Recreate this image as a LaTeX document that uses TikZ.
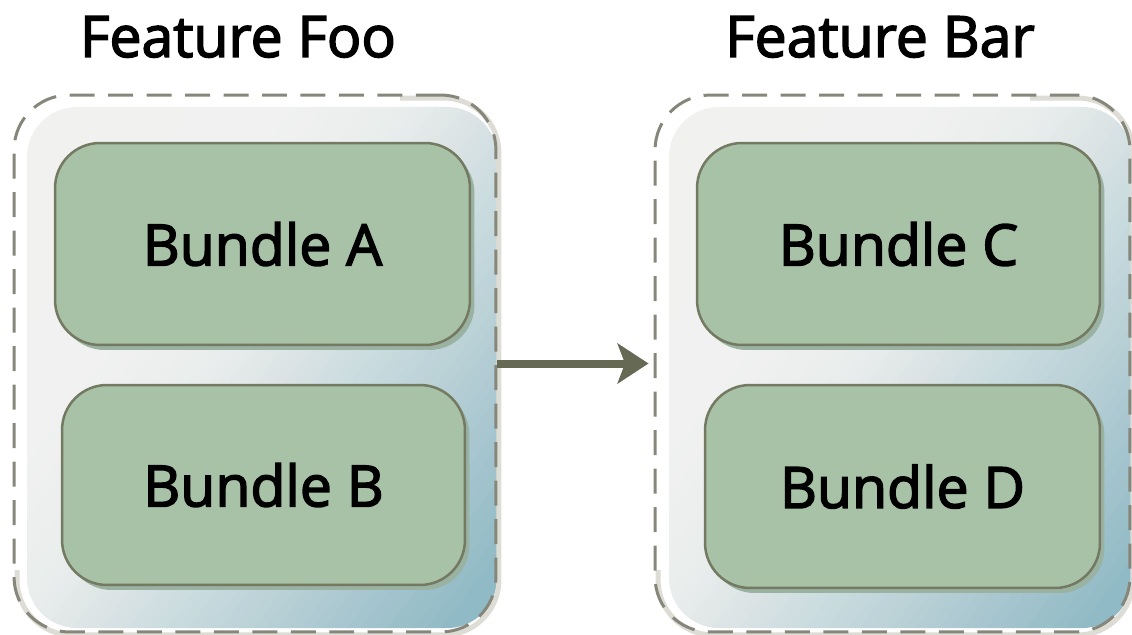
\documentclass[tikz,border=0pt]{standalone}
\usepackage{fontspec}
\setmainfont{Open Sans}[FakeBold=2.6]
\usetikzlibrary{arrows.meta}
\definecolor{g0}{HTML}{F2F2F1}
\definecolor{g1}{HTML}{F0F1F0}
\definecolor{g2}{HTML}{E9EDEC}
\definecolor{g3}{HTML}{DCE4E5}
\definecolor{g4}{HTML}{CADCDF}
\definecolor{g5}{HTML}{BAD1D7}
\definecolor{g6}{HTML}{A6C5CE}
\definecolor{g7}{HTML}{8FBAC6}
\definecolor{dashc}{HTML}{86877A}
\definecolor{halo}{HTML}{DDDDD6}
\definecolor{bfill}{HTML}{A8C2A7}
\definecolor{bline}{HTML}{747A62}
\definecolor{bshadow}{HTML}{9AB2A2}
\definecolor{arrowc}{HTML}{666A55}
% one segment of the gradient, as 8 flat bands across the axis (0.8,0.6)
% #1,#2 centre; #3,#4 offsets along the axis; #5,#6 colours
\newcommand\gseg[6]{%
  \foreach \k in {0,...,7}{%
    \pgfmathsetmacro\da{#3+(#4-#3)*\k/8}%
    \pgfmathsetmacro\db{#3+(#4-#3)*(\k+1)/8+0.7}%
    \pgfmathtruncatemacro\pc{100-(\k+0.5)*100/8}%
    \fill[#5!\pc!#6] ({#1+\da*0.8-420},{#2+\da*0.6+560}) -- ({#1+\da*0.8+420},{#2+\da*0.6-560})
      -- ({#1+\db*0.8+420},{#2+\db*0.6-560}) -- ({#1+\db*0.8-420},{#2+\db*0.6+560}) -- cycle;
  }}
% gradient fill of a container: #1 = centre x, #2 = centre y (picture units)
\newcommand\contgradient[2]{%
  \gseg{#1}{#2}{-450}{-130}{g0}{g1}
  \gseg{#1}{#2}{-130}{-40}{g1}{g2}
  \gseg{#1}{#2}{-40}{20}{g2}{g3}
  \gseg{#1}{#2}{20}{80}{g3}{g4}
  \gseg{#1}{#2}{80}{150}{g4}{g5}
  \gseg{#1}{#2}{150}{225}{g5}{g6}
  \gseg{#1}{#2}{225}{310}{g6}{g7}
  \gseg{#1}{#2}{310}{450}{g7}{g7}}
\tikzset{
  x=0.02cm, y=-0.02cm,
  container/.style={rectangle, rounded corners=1.1cm, draw=dashc, line width=0.06cm,
    dash pattern=on 0.5cm off 0.27cm, inner sep=0pt},
  halobox/.style={rectangle, rounded corners=1.1cm, draw=halo, line width=0.1cm, inner sep=0pt},
  bundle/.style={rectangle, rounded corners=0.9cm, draw=bline, line width=0.05cm, fill=bfill,
    inner sep=0pt, font=\fontsize{32.5}{36}\selectfont},
  shadowbox/.style={rectangle, rounded corners=0.9cm, fill=bshadow, inner sep=0pt},
  title/.style={anchor=base, font=\fontsize{32.5}{36}\selectfont, inner sep=0pt},
  link/.style={draw=arrowc, line width=0.16cm, -{Stealth[length=0.62cm, width=0.8cm, inset=0.15cm]}}
}
\begin{document}
\begin{tikzpicture}
\useasboundingbox (0,0) rectangle (1132,635);
% container fills (gradient from top-left grey to bottom-right blue)
\begin{scope}
  \clip[rounded corners=1.0cm] (27,107) rectangle (497,628);
  \contgradient{262}{367.5}
\end{scope}
\begin{scope}
  \clip[rounded corners=1.0cm] (669,107) rectangle (1132,628);
  \contgradient{900.5}{367.5}
\end{scope}
% halos on the lower right side
\begin{scope}
  \clip (400,0) rectangle (1132,635) (0,570) rectangle (1132,635) (1030,0) rectangle (1132,635);
  \clip (0,0) rectangle (560,635) (1030,0) rectangle (1132,635) (0,570) rectangle (1132,635);
  \node[halobox, minimum width=9.64cm, minimum height=10.74cm] at (258,366.5) {};
  \node[halobox, minimum width=9.5cm, minimum height=10.74cm] at (895.5,366.5) {};
\end{scope}
% containers
\node[container, minimum width=9.64cm, minimum height=10.74cm] (foo) at (255,363.5) {};
\node[container, minimum width=9.5cm, minimum height=10.74cm] (bar) at (892.5,363.5) {};
% titles
\node[title] (tfoo) at (238,57) {Feature Foo};
\node[title] (tbar) at (880,57) {Feature Bar};
% shadows
\node[shadowbox, minimum width=8.3cm, minimum height=4.04cm] at (267,249) {};
\node[shadowbox, minimum width=8.06cm, minimum height=4.0cm] at (268,490) {};
\node[shadowbox, minimum width=8.06cm, minimum height=4.04cm] at (903,249) {};
\node[shadowbox, minimum width=7.9cm, minimum height=4.06cm] at (907,491.5) {};
% bundles
\node[bundle, minimum width=8.3cm, minimum height=4.04cm] (a) at (262.5,244) {Bundle A};
\node[bundle, minimum width=8.06cm, minimum height=4.0cm] (b) at (263.5,485) {Bundle B};
\node[bundle, minimum width=8.06cm, minimum height=4.04cm] (c) at (898.5,244) {Bundle C};
\node[bundle, minimum width=7.9cm, minimum height=4.06cm] (d) at (902.5,486.5) {Bundle D};
% arrow
\draw[link, shorten >=0.1cm] (foo.east) -- (bar.west);
\end{tikzpicture}
\end{document}
